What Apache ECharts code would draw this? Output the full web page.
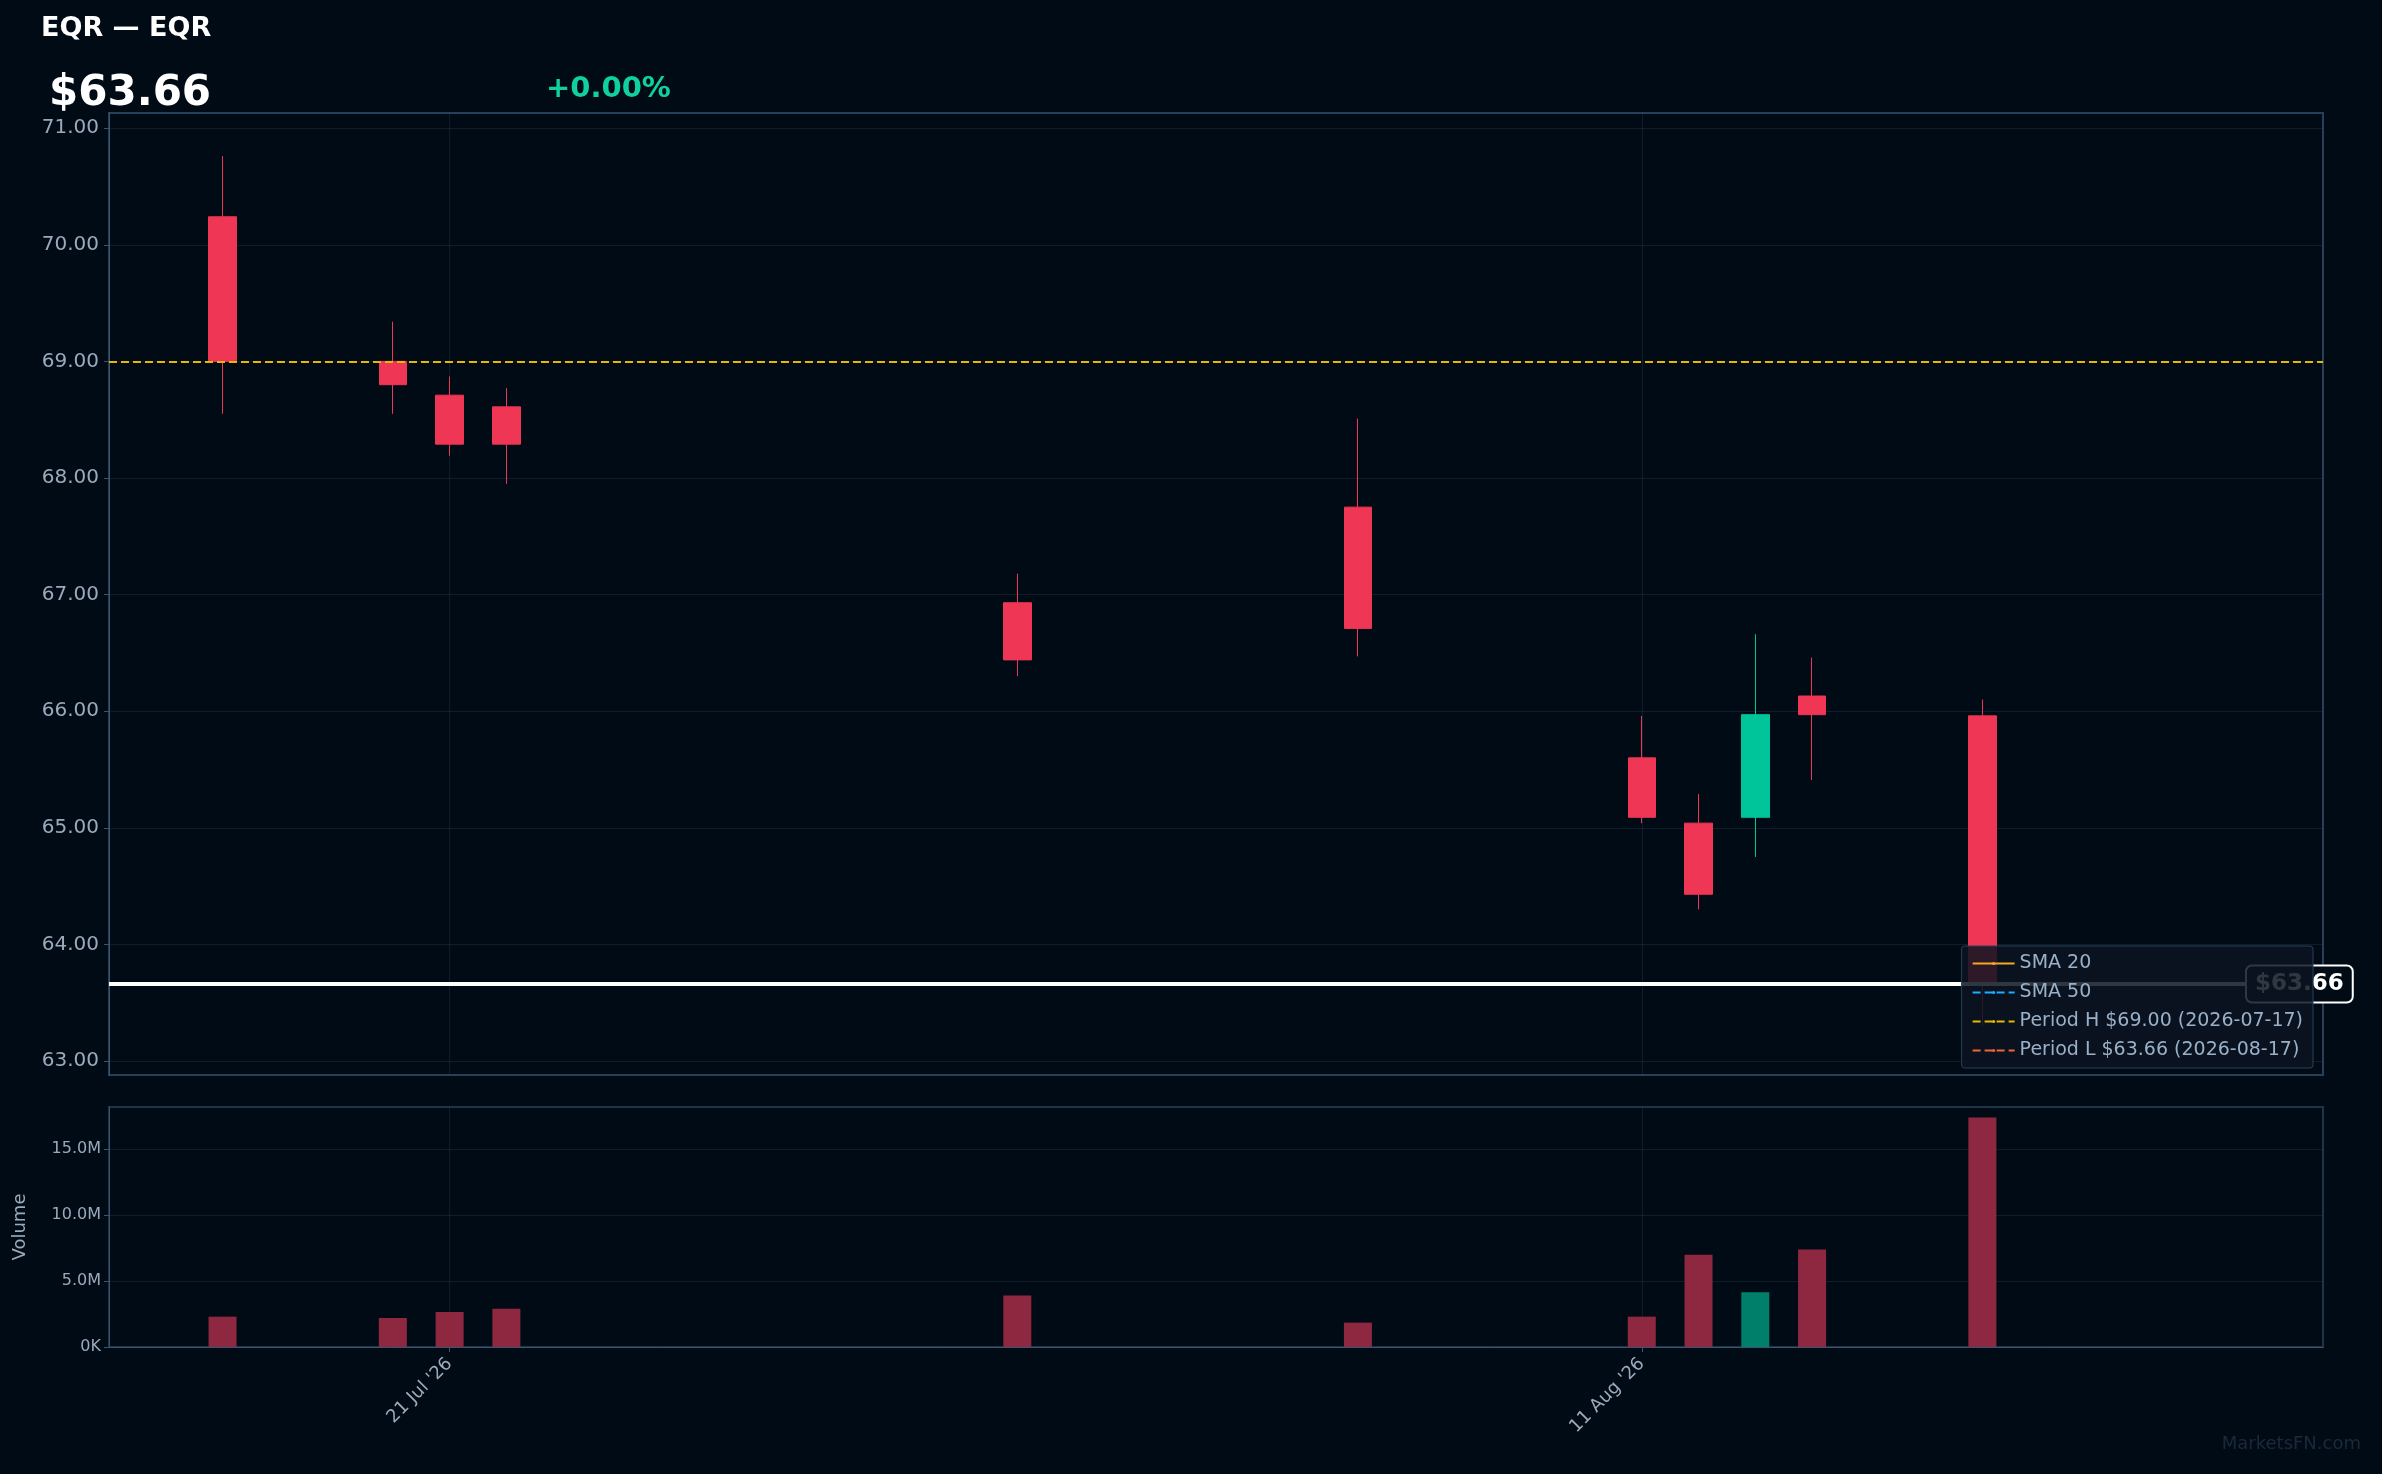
<!DOCTYPE html>
<html>
<head>
<meta charset="utf-8">
<script src="https://cdn.jsdelivr.net/npm/echarts@6.0.0/dist/echarts.min.js"></script>
<style>
html,body{margin:0;padding:0;background:#000b16;}
#main{width:2382px;height:1474px;}
</style>
</head>
<body>
<div id="main"></div>
<script>
// day offsets from 1 Jul 2026
var dates = ['2026-07-17','2026-07-20','2026-07-21','2026-07-22','2026-07-31','2026-08-06','2026-08-11','2026-08-12','2026-08-13','2026-08-14','2026-08-17'];
var opens  = [70.24, 69.00, 68.71, 68.61, 66.93, 67.75, 65.60, 65.04, 65.09, 66.13, 65.96];
var closes = [69.00, 68.80, 68.29, 68.29, 66.44, 66.71, 65.09, 64.43, 65.97, 65.97, 63.66];
var lows   = [68.55, 68.55, 68.19, 67.95, 66.30, 66.47, 65.04, 64.30, 64.75, 65.41, 63.30];
var highs  = [70.76, 69.34, 68.87, 68.77, 67.18, 68.51, 65.96, 65.29, 66.66, 66.46, 66.10];
var volumes = [2.3, 2.2, 2.65, 2.9, 3.9, 1.85, 2.3, 7.0, 4.15, 7.4, 17.4]; // millions
var tickDays = [20, 41];
var tickLabels = {20: "21 Jul '26", 41: "11 Aug '26"};
var priceTicks = [63, 64, 65, 66, 67, 68, 69, 70, 71];
var volTicks = [0, 5, 10, 15];
var lastPrice = 63.66, periodHigh = 69.00;

function dayOf(s) {
  var d = new Date(s + 'T00:00:00Z');
  return Math.round((d - Date.UTC(2026, 6, 1)) / 86400000);
}
var candleData = dates.map(function (d, i) {
  return [dayOf(d), opens[i], closes[i], lows[i], highs[i]];
});
var volData = dates.map(function (d, i) {
  var up = closes[i] >= opens[i];
  return {value: [dayOf(d), volumes[i]], itemStyle: {color: up ? '#00806a' : '#8e2840'}};
});

var myChart = echarts.init(document.getElementById('main'));
var gridColor = 'rgba(60,80,100,0.25)';
var axisText = '#9aaabb';

var option = {
  backgroundColor: '#000b16',
  animation: false,
  textStyle: {fontFamily: 'DejaVu Sans'},
  title: [
    {text: 'EQR — EQR', left: 36, top: 10, textStyle: {color: '#fff', fontSize: 27, fontWeight: 'bold'}},
    {text: '$63.66', left: 44, top: 68, textStyle: {color: '#fff', fontSize: 42, fontWeight: 'bold'}},
    {text: '+0.00%', left: 541, top: 70, textStyle: {color: '#10d0a0', fontSize: 29, fontWeight: 'bold'}},
    {text: 'MarketsFN.com', right: 16, bottom: 16, textStyle: {color: '#1a2a3a', fontSize: 18, fontWeight: 'normal'}}
  ],
  legend: {
    orient: 'vertical', right: 69, top: 946, z: 20,
    backgroundColor: 'rgba(10,20,32,0.85)', borderColor: '#26405a', borderWidth: 1, borderRadius: 3,
    padding: [8, 10], itemGap: 10, itemWidth: 42, itemHeight: 4,
    textStyle: {color: '#9ab0c8', fontSize: 19},
    data: ['SMA 20', 'SMA 50', 'Period H $69.00 (2026-07-17)', 'Period L $63.66 (2026-08-17)']
  },
  grid: [
    {left: 109, right: 59, top: 113, height: 962, show: true, borderColor: '#26405a', borderWidth: 2, backgroundColor: 'transparent'},
    {left: 109, right: 59, top: 1107, height: 240, show: true, borderColor: '#1e3248', borderWidth: 2, backgroundColor: 'transparent'}
  ],
  xAxis: [
    {type: 'value', gridIndex: 0, min: 14, max: 53,
      axisLine: {show: false}, axisTick: {show: false, customValues: tickDays},
      axisLabel: {show: false, customValues: tickDays},
      splitLine: {show: true, lineStyle: {color: gridColor}}},
    {type: 'value', gridIndex: 1, min: 14, max: 53,
      axisLine: {show: true, lineStyle: {color: '#3a5570'}},
      axisTick: {show: true, customValues: tickDays, lineStyle: {color: '#3a5570'}},
      axisLabel: {customValues: tickDays, rotate: 45, color: axisText, fontSize: 18, margin: 14,
        formatter: function (v) { return tickLabels[v] || ''; }},
      splitLine: {show: true, lineStyle: {color: gridColor}}}
  ],
  yAxis: [
    {type: 'value', gridIndex: 0, min: 62.88, max: 71.13,
      axisLine: {show: true, lineStyle: {color: '#3a5570'}},
      axisTick: {show: true, customValues: priceTicks, lineStyle: {color: '#3a5570'}},
      axisLabel: {customValues: priceTicks, color: axisText, fontSize: 20, margin: 10,
        formatter: function (v) { return v.toFixed(2); }},
      splitLine: {show: true, lineStyle: {color: gridColor}}},
    {type: 'value', gridIndex: 1, min: 0, max: 18.2, name: 'Volume', nameLocation: 'middle', nameGap: 80,
      nameTextStyle: {color: axisText, fontSize: 18},
      axisLine: {show: true, lineStyle: {color: '#3a5570'}},
      axisTick: {show: true, customValues: volTicks, lineStyle: {color: '#3a5570'}},
      axisLabel: {customValues: volTicks, color: axisText, fontSize: 16,
        formatter: function (v) { return v === 0 ? '0K' : v.toFixed(1) + 'M'; }},
      splitLine: {show: true, lineStyle: {color: gridColor}}}
  ],
  series: [
    {type: 'candlestick', xAxisIndex: 0, yAxisIndex: 0, barWidth: 28, data: candleData,
      itemStyle: {color: '#00c49a', color0: '#ef3654', borderColor: '#00c49a', borderColor0: '#ef3654', borderWidth: 1},
      markLine: {symbol: 'none', silent: true, data: [
        {yAxis: periodHigh, lineStyle: {color: '#e6b800', type: 'dashed', width: 2}, label: {show: false}},
        {yAxis: lastPrice, lineStyle: {color: '#ffffff', type: 'solid', width: 4},
          label: {show: true, position: 'end', distance: -76, formatter: '$63.66', color: '#fff', fontSize: 23, fontWeight: 'bold',
            backgroundColor: '#000b16', borderColor: '#fff', borderWidth: 2, borderRadius: 5, padding: [6, 8]}}
      ]}
    },
    {type: 'bar', xAxisIndex: 1, yAxisIndex: 1, barWidth: 28, data: volData},
    {name: 'SMA 20', type: 'line', data: [], lineStyle: {color: '#f5a623', width: 3}, itemStyle: {color: '#f5a623'}, symbol: 'none'},
    {name: 'SMA 50', type: 'line', data: [], lineStyle: {color: '#1ab0ff', width: 3, type: 'dashed'}, itemStyle: {color: '#1ab0ff'}, symbol: 'none'},
    {name: 'Period H $69.00 (2026-07-17)', type: 'line', data: [], lineStyle: {color: '#e6b800', width: 3, type: 'dashed'}, itemStyle: {color: '#e6b800'}, symbol: 'none'},
    {name: 'Period L $63.66 (2026-08-17)', type: 'line', data: [], lineStyle: {color: '#f0643c', width: 3, type: 'dashed'}, itemStyle: {color: '#f0643c'}, symbol: 'none'}
  ]
};
myChart.setOption(option);
</script>
</body>
</html>
